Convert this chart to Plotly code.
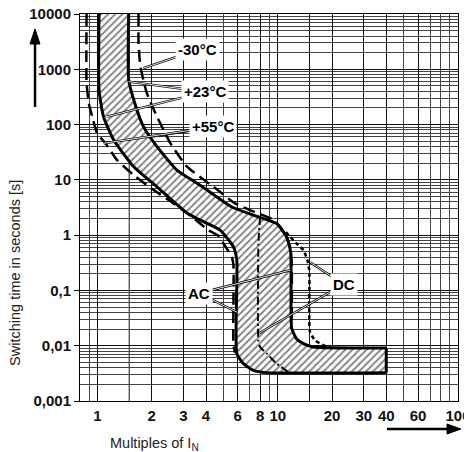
import plotly.graph_objects as go

# ---------------- data (multiples of I_N, switching time in s) ----------------
curr_hi_23 = [1.49, 1.49, 1.59, 1.80, 2.14, 2.76, 3.75, 5.5, 7.6, 9.9, 11.2, 11.8, 11.95, 12.7, 13.9, 15.7, 40]
time_hi_23 = [10000, 643, 279, 91.6, 39.8, 15.0, 7.8, 3.3, 2.2, 1.6, 0.93, 0.5, 0.0207, 0.0134, 0.0109, 0.0095, 0.0091]

curr_lo_23 = [1.02, 1.02, 1.08, 1.23, 1.59, 2.14, 3.15, 3.72, 4.79, 5.68, 5.93, 5.93, 6.45, 7.33, 8.7, 40]
time_lo_23 = [10000, 423, 139, 52.6, 17.3, 7.5, 2.5, 1.87, 1.23, 0.614, 0.352, 0.0072, 0.00474, 0.00358, 0.00326, 0.00325]

curr_m30 = [1.69, 1.69, 1.73, 1.88, 2.14, 2.54, 3.14, 4.4, 5.8, 7.5, 9.5, 11.0, 11.7, 11.95, 11.95]
time_m30 = [10000, 3008, 1120, 369, 139, 45.8, 17.3, 7.5, 3.75, 2.6, 1.9, 1.05, 0.6, 0.3, 0.02]

curr_p55 = [0.87, 0.87, 0.895, 0.935, 0.996, 1.107, 1.285, 1.588, 2.05, 2.64, 3.34, 4.13, 4.79, 5.0, 5.56, 5.68, 5.68, 5.8]
time_p55 = [10000, 567, 246, 139, 69.6, 45.8, 22.8, 12.2, 6.53, 3.75, 2.15, 1.23, 0.93, 0.707, 0.404, 0.286, 0.0102, 0.0075]

curr_dc_lo = [7.98, 7.81, 7.81, 7.98, 8.7, 9.87, 11.45]
time_dc_lo = [2.15, 0.659, 0.0125, 0.0095, 0.0072, 0.00474, 0.00334]

curr_dc_hi = [11.1, 12.7, 13.9, 14.6, 14.96, 14.96, 15.1, 16.1, 17.9, 19.5]
time_dc_hi = [1.13, 0.707, 0.535, 0.352, 0.232, 0.0289, 0.0177, 0.0125, 0.0102, 0.0091]

x_tick_vals = [1, 2, 3, 4, 6, 8, 10, 20, 30, 40, 60, 100]
x_tick_text = ["1", "2", "3", "4", "6", "8", "10", "20", "30", "40", "60", "100"]
x_extra_grid = [1.5, 15]
y_tick_vals = [0.001, 0.01, 0.1, 1, 10, 100, 1000, 10000]
y_tick_text = ["0,001", "0,01", "0,1", "1", "10", "100", "1000", "10000"]

# labels: text, (log10 x, log10 t) of label centre, pointer targets (x, t)
labels = [
    ("-30°C", (0.553, 3.351), [(1.80, 1047)]),
    ("+23°C", (0.595, 2.591), [(1.49, 599), (1.13, 139)]),
    ("+55°C", (0.639, 1.957), [(2.01, 60.4), (1.083, 45.8)]),
    ("AC", (0.5645, -1.051), [(11.7, 0.232), (5.95, 0.0403)]),
    ("DC", (1.365, -0.888), [(15.1, 0.324), (7.88, 0.0168)]),
]

FONT = "Liberation Sans, Arial, Helvetica, sans-serif"

fig = go.Figure()

# hatched +23 °C band (fill only)
band_x = curr_hi_23 + curr_lo_23[::-1]
band_t = time_hi_23 + time_lo_23[::-1]
fig.add_trace(go.Scatter(
    x=band_x, y=band_t, mode="lines", fill="toself", fillcolor="white",
    fillpattern=dict(shape="/", fgcolor="black", bgcolor="white", size=5, solidity=0.35),
    line=dict(color="rgba(0,0,0,0)", width=0),
    hoverinfo="skip", showlegend=False))

# band outlines
solid = dict(color="black", width=3, shape="spline", smoothing=0.5)
fig.add_trace(go.Scatter(x=curr_hi_23, y=time_hi_23, mode="lines", line=solid, showlegend=False, hoverinfo="skip"))
fig.add_trace(go.Scatter(x=curr_lo_23, y=time_lo_23, mode="lines", line=solid, showlegend=False, hoverinfo="skip"))
fig.add_trace(go.Scatter(x=[curr_hi_23[-1], curr_lo_23[-1]], y=[time_hi_23[-1], time_lo_23[-1]], mode="lines",
                         line=dict(color="black", width=3), showlegend=False, hoverinfo="skip"))

# -30 °C and +55 °C long dashed
fig.add_trace(go.Scatter(x=curr_m30, y=time_m30, mode="lines",
                         line=dict(color="black", width=2.5, dash="12px,6px", shape="spline", smoothing=0.5),
                         showlegend=False, hoverinfo="skip"))
fig.add_trace(go.Scatter(x=curr_p55, y=time_p55, mode="lines",
                         line=dict(color="black", width=2.5, dash="12px,6px", shape="spline", smoothing=0.5),
                         showlegend=False, hoverinfo="skip"))
# DC curves
fig.add_trace(go.Scatter(x=curr_dc_lo, y=time_dc_lo, mode="lines",
                         line=dict(color="black", width=2, dash="8px,3px,2px,3px", shape="spline", smoothing=0.5),
                         showlegend=False, hoverinfo="skip"))
fig.add_trace(go.Scatter(x=curr_dc_hi, y=time_dc_hi, mode="lines",
                         line=dict(color="black", width=2.5, dash="4px,3px", shape="spline", smoothing=0.5),
                         showlegend=False, hoverinfo="skip"))

# pointer lines (outlined)
for text, (lx, lt), targets in labels:
    for (tx, tt) in targets:
        px = [10 ** lx, tx]
        pt = [10 ** lt, tt]
        fig.add_trace(go.Scatter(x=px, y=pt, mode="lines", line=dict(color="black", width=2.4),
                                 showlegend=False, hoverinfo="skip"))
        fig.add_trace(go.Scatter(x=px, y=pt, mode="lines", line=dict(color="white", width=0.9),
                                 showlegend=False, hoverinfo="skip"))

annotations = []
for text, (lx, lt), targets in labels:
    annotations.append(dict(x=lx, y=lt, xref="x", yref="y", text="<b>%s</b>" % text, showarrow=False,
                            font=dict(family=FONT, size=15, color="black"),
                            bgcolor="white", borderpad=2, xanchor="center", yanchor="middle"))

# axis titles
annotations.append(dict(x=-0.172, y=0.331, xref="paper", yref="paper", text="Switching time in seconds [s]",
                        textangle=-90, showarrow=False, xanchor="center", yanchor="middle",
                        font=dict(family=FONT, size=14.5, color="#222")))
annotations.append(dict(x=0.198, y=-0.111, xref="paper", yref="paper", text="Multiples of I<sub>N</sub>",
                        showarrow=False, xanchor="center", yanchor="middle",
                        font=dict(family=FONT, size=14.5, color="#222")))

shapes = [dict(type="line", xref="x", yref="paper", x0=v, x1=v, y0=0, y1=1,
               line=dict(color="#111", width=1), layer="below") for v in x_extra_grid]
# arrows (paper coordinates)
shapes += [
    dict(type="line", xref="paper", yref="paper", x0=-0.119, x1=-0.119, y0=0.7597, y1=0.93,
         line=dict(color="black", width=2.5)),
    dict(type="path", xref="paper", yref="paper",
         path="M -0.1323,0.9225 L -0.1058,0.9225 L -0.119,0.9612 Z",
         fillcolor="black", line=dict(color="black", width=1)),
    dict(type="line", xref="paper", yref="paper", x0=0.8122, x1=0.975, y0=-0.07235, y1=-0.07235,
         line=dict(color="black", width=2.5)),
    dict(type="path", xref="paper", yref="paper",
         path="M 0.9709,-0.0595 L 0.9709,-0.0853 L 1.0079,-0.07235 Z",
         fillcolor="black", line=dict(color="black", width=1)),
]

fig.update_layout(
    width=464, height=452,
    margin=dict(l=80, r=6, t=14, b=51, autoexpand=False),
    paper_bgcolor="white", plot_bgcolor="white",
    font=dict(family=FONT, color="black"),
    annotations=annotations, shapes=shapes,
    xaxis=dict(type="log", range=[-0.0969, 2], tickvals=x_tick_vals,
               ticktext=["<b>%s</b>" % t for t in x_tick_text],
               tickfont=dict(family=FONT, size=15, color="#111"),
               showgrid=True, gridcolor="#111", gridwidth=1,
               minor=dict(dtick="D1", showgrid=True, gridcolor="#444", gridwidth=1, ticks=""),
               ticks="", ticklabelstandoff=1, ticklabeloverflow="allow", automargin=False,
               showline=True, linecolor="black", linewidth=1, mirror=True, zeroline=False),
    yaxis=dict(type="log", range=[-3, 4], tickvals=y_tick_vals,
               ticktext=["<b>%s</b>" % t for t in y_tick_text],
               tickfont=dict(family=FONT, size=15, color="#111"),
               showgrid=True, gridcolor="#111", gridwidth=1,
               minor=dict(dtick="D1", showgrid=True, gridcolor="#444", gridwidth=1, ticks=""),
               ticks="outside", ticklen=5, tickcolor="black", automargin=False, ticklabeloverflow="allow",
               showline=True, linecolor="black", linewidth=1, mirror=True, zeroline=False),
)

fig.write_html("out.html", config={"displayModeBar": False},
               post_script="document.body.style.margin='0';document.body.style.padding='0';"
                           "document.body.style.overflow='hidden';")
